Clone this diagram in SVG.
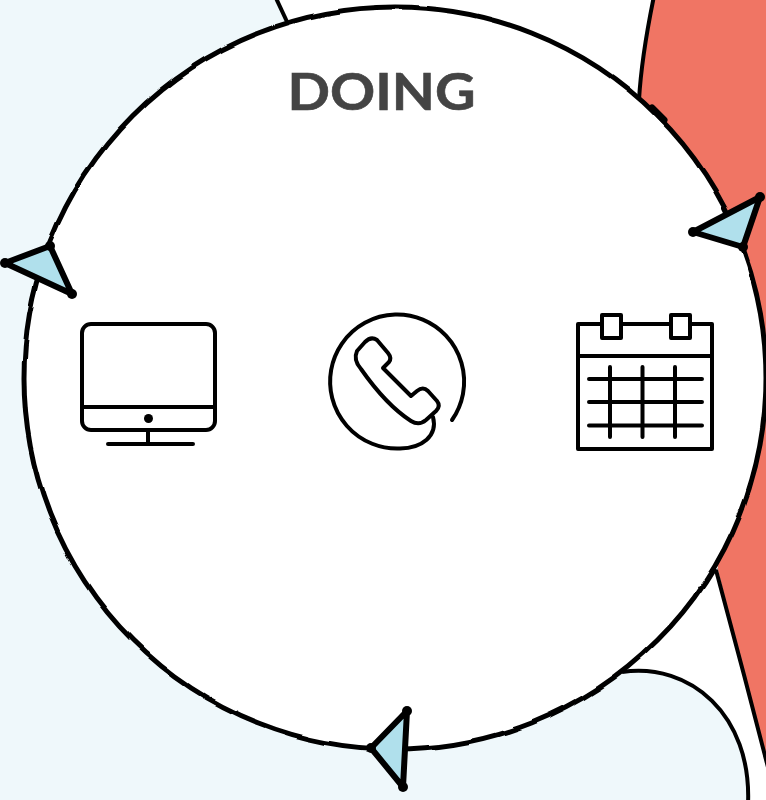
<svg xmlns="http://www.w3.org/2000/svg" width="766" height="800" viewBox="0 0 766 800">
<defs>
<style>
.ink{fill:none;stroke:#000;stroke-linecap:round;stroke-linejoin:round}
.i{stroke-width:4}
.tri{fill:#B0E0EC;stroke:#000;stroke-width:6;stroke-linejoin:round}
.tip{fill:#000}
.edge{stroke:#000;stroke-width:4;stroke-linejoin:round}
</style>
<filter id="rough" x="-5%" y="-5%" width="110%" height="110%">
<feTurbulence type="fractalNoise" baseFrequency="0.025" numOctaves="1" seed="4" result="n"/>
<feDisplacementMap in="SourceGraphic" in2="n" scale="4" xChannelSelector="R" yChannelSelector="G"/>
</filter>
</defs>
<rect width="766" height="800" fill="#fff"/>
<g id="background">
<path d="M0,0H275L290,30L600,660L622,672C690,662 752,715 748,800H0Z" fill="#EFF8FB"/>
<path d="M275,-4L289,26" class="edge" fill="none"/>
<path d="M622,672C690,662 752,715 748,804" class="edge" fill="none"/>
<path d="M654,-4C647,30 641,65 639,100L700,300L718,570C735,640 752,705 770,775V-4Z" fill="#F07564"/>
<path d="M654,-4C647,30 641,65 639,100" class="edge" fill="none"/>
<path d="M716,570C735,640 752,705 770,775" class="edge" fill="none"/>
</g>
<g id="doing-circle">
<circle cx="395" cy="378" r="371" fill="#fff" stroke="#000" stroke-width="5" filter="url(#rough)"/>
<text x="287.500" y="110" font-family="Lato, 'Liberation Sans', sans-serif" font-weight="700" font-size="52" fill="#444" stroke="#444" stroke-width="0.6" textLength="188" lengthAdjust="spacingAndGlyphs">DOING</text>
</g>
<g id="connectors">
<path d="M652,108L664,120" stroke="#000" stroke-width="7" stroke-linecap="round"/>
<g id="arrow-left">
<polygon class="tri" points="5,263 50,246 72,294"/>
<circle class="tip" cx="5" cy="263" r="5"/><circle class="tip" cx="50" cy="246" r="5"/><circle class="tip" cx="72" cy="294" r="5"/>
</g>
<g id="arrow-right">
<polygon class="tri" points="693,232 760,197 743,247"/>
<circle class="tip" cx="693" cy="232" r="5"/><circle class="tip" cx="760" cy="197" r="5"/><circle class="tip" cx="743" cy="247" r="5"/>
</g>
<g id="arrow-bottom">
<polygon class="tri" points="371,748 407,711 403,787"/>
<circle class="tip" cx="371" cy="748" r="5"/><circle class="tip" cx="407" cy="711" r="5"/><circle class="tip" cx="403" cy="787" r="5"/>
</g>
</g>
<g id="monitor" class="ink i">
<rect x="82" y="324" width="133" height="106" rx="9"/>
<path d="M82,407H215M148,431V444M108,444H193"/>
<circle cx="148.500" cy="418.500" r="4.500" fill="#000" stroke="none"/>
</g>
<g id="phone" class="ink i">
<path d="M452,420A67,67 0 1 0 400,448.500C422,448 438,436 433,417"/>
<path d="M383,368L411,396L417,391Q423,386 428,391L437,401Q441,406 436,411L426,420Q419,426 411,421C394,410 375,389 361,369Q353,360 357,351L365,342Q371,336 377,340L388,353Q392,358 389,362Z"/>
</g>
<g id="calendar" class="ink i">
<rect x="578" y="324" width="134" height="125"/>
<path d="M578,356H712"/>
<rect x="602" y="315" width="19" height="23" fill="#fff"/>
<rect x="671" y="315" width="19" height="23" fill="#fff"/>
<path d="M610,367V437M642.500,367V437M675,367V437M589,379H702M589,402H702M589,425.500H702"/>
</g>
</svg>
